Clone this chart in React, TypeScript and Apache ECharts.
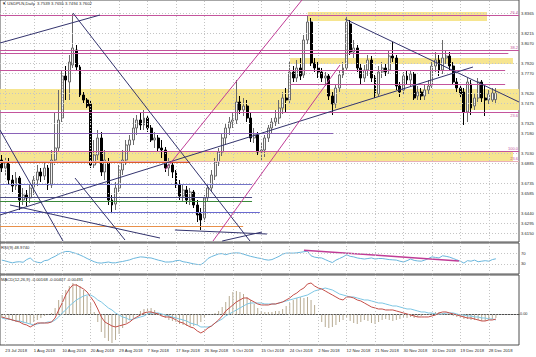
import React, { useEffect, useRef } from 'react';
import * as echarts from 'echarts';

// ---------- DATA ----------
// OHLC per bar: [open, close, low, high]
const candles = [
[3.6935,3.6855,3.6815,3.6985],[3.6855,3.6915,3.6785,3.6955],[3.6915,3.6735,3.6685,3.6955],[3.6735,3.6675,3.6615,3.6785],[3.6675,3.6755,3.6635,3.6815],
[3.6755,3.6535,3.6435,3.6775],[3.6535,3.6585,3.6485,3.6655],[3.6585,3.6555,3.6475,3.6635],[3.6555,3.6655,3.6505,3.6685],[3.6655,3.6735,3.6585,3.6775],
[3.6735,3.6815,3.6675,3.6885],[3.6815,3.6775,3.6715,3.6855],[3.6775,3.6855,3.6735,3.6915],[3.6855,3.6685,3.6635,3.6885],[3.6685,3.6935,3.6655,3.7035],
[3.6935,3.7055,3.6885,3.7415],[3.7055,3.7335,3.7015,3.7635],[3.7355,3.7775,3.7315,3.7835],[3.7775,3.7735,3.7535,3.7875],[3.7715,3.7915,3.7535,3.7985],
[3.7885,3.8055,3.7855,3.8405],[3.8035,3.7865,3.7835,3.8085],[3.7865,3.7585,3.7565,3.7885],[3.7585,3.7535,3.7505,3.7615],[3.7535,3.7475,3.7455,3.7555],
[3.7495,3.6885,3.6855,3.7535],[3.6885,3.6985,3.6855,3.7135],[3.6985,3.7155,3.6935,3.7235],[3.7155,3.6815,3.6775,3.7215],[3.6815,3.6935,3.6735,3.7035],
[3.6915,3.6535,3.6485,3.6955],[3.6535,3.6485,3.6405,3.6585],[3.6495,3.6655,3.6435,3.6715],[3.6655,3.6835,3.6615,3.6885],[3.6835,3.6935,3.6785,3.7035],
[3.6935,3.7085,3.6885,3.7135],[3.7085,3.7135,3.7015,3.7185],[3.7135,3.7255,3.7085,3.7355],[3.7255,3.7335,3.7185,3.7385],[3.7335,3.7285,3.7235,3.7415],
[3.7285,3.7355,3.7235,3.7435],[3.7355,3.7255,3.7215,3.7385],[3.7255,3.7135,3.7115,3.7285],[3.7135,3.7155,3.7055,3.7215],[3.7155,3.7055,3.7015,3.7185],
[3.7055,3.7035,3.6955,3.7135],[3.7035,3.6855,3.6815,3.7065],[3.6855,3.6885,3.6775,3.6955],[3.6885,3.6815,3.6755,3.6935],[3.6815,3.6685,3.6655,3.6835],
[3.6685,3.6575,3.6535,3.6735],[3.6575,3.6635,3.6515,3.6685],[3.6635,3.6535,3.6495,3.6675],[3.6535,3.6615,3.6485,3.6655],[3.6615,3.6485,3.6455,3.6635],
[3.6485,3.6385,3.6315,3.6535],[3.6405,3.6335,3.6235,3.6455],[3.6355,3.6555,3.6315,3.6585],[3.6555,3.6655,3.6515,3.6685],[3.6655,3.6785,3.6615,3.6835],
[3.6775,3.6915,3.6735,3.6955],[3.6915,3.7015,3.6875,3.7055],[3.7015,3.7155,3.6975,3.7195],[3.7155,3.7255,3.7085,3.7295],[3.7255,3.7315,3.7185,3.7365],
[3.7315,3.7335,3.7255,3.7415],[3.7335,3.7515,3.7295,3.7735],[3.7515,3.7435,3.7395,3.7575],[3.7435,3.7475,3.7375,3.7555],[3.7475,3.7355,3.7315,3.7535],
[3.7355,3.7155,3.7115,3.7415],[3.7155,3.7185,3.7105,3.7255],[3.7185,3.7015,3.6985,3.7215],[3.7015,3.7035,3.6935,3.7105],[3.7035,3.7155,3.6965,3.7185],
[3.7155,3.7255,3.7115,3.7285],[3.7255,3.7315,3.7205,3.7355],[3.7315,3.7355,3.7275,3.7435],[3.7355,3.7455,3.7295,3.7535],[3.7455,3.7555,3.7395,3.7615],
[3.7555,3.7535,3.7415,3.7655],[3.7535,3.7815,3.7495,3.7915],[3.7815,3.7755,3.7715,3.7875],[3.7755,3.7855,3.7715,3.7935],[3.7855,3.7775,3.7735,3.7955],
[3.7785,3.8135,3.7755,3.8185],[3.8135,3.8315,3.8095,3.8375],[3.8315,3.7905,3.7875,3.8355],[3.7905,3.7855,3.7815,3.7955],[3.7855,3.7815,3.7755,3.7915],
[3.7815,3.7755,3.7715,3.7855],[3.7755,3.7775,3.7675,3.7815],[3.7775,3.7575,3.7535,3.7795],[3.7575,3.7495,3.7385,3.7615],[3.7495,3.7655,3.7455,3.7695],
[3.7655,3.7785,3.7615,3.7835],[3.7785,3.7855,3.7755,3.7915],[3.7855,3.8315,3.7835,3.8365],[3.8295,3.8015,3.7985,3.8335],[3.8015,3.8055,3.7955,3.8135],
[3.8055,3.7855,3.7815,3.8085],[3.7855,3.7755,3.7695,3.7895],[3.7755,3.7835,3.7715,3.7885],[3.7835,3.7935,3.7775,3.7985],[3.7935,3.7755,3.7715,3.7975],
[3.7755,3.7585,3.7555,3.7785],[3.7595,3.7815,3.7575,3.7875],[3.7815,3.7855,3.7755,3.7915],[3.7855,3.7815,3.7775,3.7895],[3.7835,3.7975,3.7795,3.8035],
[3.7975,3.7955,3.7915,3.8115],[3.7955,3.7675,3.7635,3.7985],[3.7675,3.7615,3.7565,3.7715],[3.7635,3.7775,3.7595,3.7815],[3.7775,3.7735,3.7695,3.7835],
[3.7735,3.7795,3.7675,3.7835],[3.7795,3.7555,3.7535,3.7815],[3.7575,3.7615,3.7535,3.7675],[3.7615,3.7575,3.7535,3.7655],[3.7575,3.7635,3.7535,3.7695],
[3.7635,3.7675,3.7595,3.7735],[3.7675,3.7875,3.7655,3.7915],[3.7875,3.7935,3.7815,3.8015],[3.7935,3.7835,3.7775,3.7985],[3.7835,3.7955,3.7795,3.8135],
[3.7955,3.7975,3.7895,3.8035],[3.7975,3.7875,3.7835,3.8015],[3.7875,3.7715,3.7685,3.7915],[3.7715,3.7655,3.7615,3.7755],[3.7655,3.7595,3.7555,3.7695],
[3.7615,3.7415,3.7285,3.7655],[3.7415,3.7715,3.7315,3.7755],[3.7695,3.7455,3.7385,3.7735],[3.7475,3.7555,3.7435,3.7595],[3.7555,3.7715,3.7515,3.7755],
[3.7715,3.7555,3.7515,3.7735],[3.7555,3.7535,3.7375,3.7695],[3.7535,3.7595,3.7495,3.7635],[3.7535,3.7605,3.7515,3.7655],[3.7539,3.7602,3.7494,3.7655]
];

const rsi = [44,41,37,34,37,38,36,46,52,40,36,34,42,44,52,58,66,72,76,76,
72,68,63,57,50,44,38,34,33,35,37,34,34,37,39,42,45,50,53,56,
55,53,52,48,44,41,37,37,38,42,43,38,36,33,30,28,27,36,50,57,
62,67,68,64,68,70,71,70,66,62,58,55,52,50,46,44,46,52,58,66,
70,70,70,71,73,75,77,60,55,53,52,46,40,35,44,50,56,64,58,56,
52,50,48,50,52,48,50,50,48,46,45,44,40,37,42,48,43,41,40,44,
50,56,54,52,60,58,55,50,45,40,33,42,40,44,38,40,42,40,46,49];

const macdMain = [-0.00092,-0.00129,-0.00166,-0.00202,-0.00239,-0.00276,-0.0035,-0.00386,-0.0046,-0.00386,
-0.00313,-0.00313,-0.00313,-0.00313,-0.00276,-0.00129,0.00166,0.00423,0.00718,0.00938,
0.01086,0.01086,0.01012,0.00938,0.00828,0.00644,0.0046,0.00202,-0.00092,-0.00276,
-0.0035,-0.00423,-0.0046,-0.00423,-0.00386,-0.0035,-0.00276,-0.00166,-0.00092,-0.00018,
0.00055,0.00092,0.00092,0.00055,0.00018,-0.00055,-0.00092,-0.00092,-0.00129,-0.00202,
-0.00276,-0.00313,-0.00386,-0.0046,-0.00497,-0.00607,-0.00681,-0.00607,-0.00497,-0.00423,
-0.00313,-0.00202,-0.00055,0.00129,0.00239,0.0035,0.0046,0.00534,0.00607,0.00607,
0.00534,0.0046,0.00386,0.0035,0.0035,0.0035,0.00386,0.00386,0.00423,0.0046,
0.00534,0.00607,0.00718,0.00791,0.00902,0.00975,0.01122,0.01159,0.01049,0.00975,
0.00938,0.00865,0.00791,0.00718,0.00644,0.0057,0.00534,0.00644,0.00644,0.00607,
0.00534,0.00497,0.00423,0.0035,0.00276,0.00239,0.00202,0.00202,0.00166,0.00166,
0.00166,0.00129,0.00092,0.00055,0.00018,-0.00018,-0.00055,-0.00092,-0.00092,-0.00092,
-0.00092,-0.00055,-0.00018,0.00055,0.00092,0.00092,0.00055,0.00018,-0.00018,-0.00055,
-0.00092,-0.00129,-0.00129,-0.00166,-0.00202,-0.00239,-0.00239,-0.00202,-0.00202,-0.00168];

const macdSignal = [-0.00129,-0.00166,-0.00166,-0.00202,-0.00239,-0.00239,-0.00276,-0.00313,-0.0035,-0.00386,
-0.0035,-0.00313,-0.00313,-0.00276,-0.00276,-0.00202,-0.00092,0.00055,0.00166,0.00313,
0.00423,0.00534,0.00607,0.00681,0.00718,0.00718,0.00644,0.00534,0.0046,0.0035,
0.00239,0.00166,0.00055,-0.00018,-0.00092,-0.00129,-0.00202,-0.00166,-0.00129,-0.00092,
-0.00055,0.00018,0.00055,0.00055,0.00055,0.00018,-0.00018,-0.00055,-0.00092,-0.00129,
-0.00166,-0.00202,-0.00239,-0.00313,-0.0035,-0.00386,-0.0046,-0.0046,-0.0046,-0.00423,
-0.00313,-0.00239,-0.00166,-0.00055,0.00018,0.00092,0.00166,0.00239,0.00313,0.00386,
0.00423,0.00423,0.00423,0.00423,0.00386,0.00386,0.00386,0.00386,0.00423,0.0046,
0.00497,0.00534,0.0057,0.00607,0.00644,0.00681,0.00718,0.00791,0.00865,0.00902,
0.00938,0.00975,0.00938,0.00902,0.00828,0.00754,0.00718,0.00681,0.00644,0.00644,
0.00607,0.0057,0.00534,0.00534,0.00497,0.0046,0.00423,0.00423,0.00386,0.0035,
0.00313,0.00313,0.00276,0.00239,0.00202,0.00202,0.00166,0.00129,0.00092,0.00092,
0.00055,0.00055,0.00018,0.00018,0.00018,0.00055,0.00055,0.00055,0.00018,-0.00018,
-0.00018,-0.00055,-0.00055,-0.00092,-0.00092,-0.00129,-0.00129,-0.00166,-0.00166,-0.00202];

const macdHist = [-0.00129,-0.00166,-0.00202,-0.00239,-0.00276,-0.00276,-0.00313,-0.00313,-0.0035,-0.00276,
-0.00202,-0.00129,-0.00055,-0.00018,0.00055,0.00239,0.00534,0.00718,0.00902,0.01049,
0.01159,0.01122,0.01049,0.00902,0.00681,0.00423,0.00092,-0.00276,-0.00644,-0.00865,
-0.00975,-0.01049,-0.00938,-0.00718,-0.00497,-0.00313,-0.00202,-0.00129,0.00018,0.00129,
0.00202,0.00239,0.00239,0.00166,0.00055,-0.00055,-0.00129,-0.00202,-0.00239,-0.00276,
-0.0035,-0.00386,-0.00423,-0.0046,-0.00423,-0.00386,-0.00276,-0.00129,-0.00018,0.00018,
0.00055,0.00129,0.00276,0.0046,0.00681,0.00828,0.00865,0.00828,0.00754,0.00644,
0.00534,0.00386,0.00239,0.00129,0.00092,0.00092,0.00092,0.00129,0.00129,0.00202,
0.00313,0.00423,0.00534,0.00607,0.00644,0.00607,0.00644,0.00534,0.0035,0.00018,
-0.00276,-0.0046,-0.00497,-0.0046,-0.00386,-0.00276,-0.00202,-0.00129,-0.00239,-0.00313,
-0.0035,-0.00276,-0.00202,-0.00239,-0.00313,-0.0035,-0.00276,-0.00202,-0.00166,-0.00202,
-0.00239,-0.00202,-0.00166,-0.00129,-0.00129,-0.00092,-0.00129,-0.00092,-0.00055,-0.00018,
0.00018,0.00055,0.00092,0.00092,0.00055,0.00018,-0.00018,-0.00055,-0.00092,-0.00129,
-0.00166,-0.00166,-0.00202,-0.00202,-0.00202,-0.00239,-0.00239,-0.00202,-0.00166,-0.00129];

const dateLabels = ['23 Jul 2018','1 Aug 2018','10 Aug 2018','20 Aug 2018','29 Aug 2018','7 Sep 2018','17 Sep 2018','26 Sep 2018','5 Oct 2018','15 Oct 2018','24 Oct 2018','2 Nov 2018','12 Nov 2018','21 Nov 2018','30 Nov 2018','10 Dec 2018','19 Dec 2018','28 Dec 2018'];
const priceTicks = ['3.8365','3.8215','3.8070','3.7920','3.7770','3.7620','3.7475','3.7325','3.7180','3.7030','3.6885','3.6735','3.6585','3.6440','3.6295','3.6150'];
const rsiTicks = ['100','70','30','0'];
const rsiLevels = [70, 30];
const macdTicks = ['0.01306','0.00','-0.01049'];
const lastPrice = 3.7602;

const PINK = '#c4549c';
const NAVY = '#34346e';
const BAND = '#f6e48a';

// bands: [x from, x to] in bar units, [top price, bottom price]
const bands = [
  { x: [86.1, 136.5], p: [3.8415, 3.8325] },
  { x: [81.1, 143.8], p: [3.7955, 3.7895] },
  { x: [-0.5, 145.5], p: [3.7645, 3.7435] },
  { x: [-0.5, 143.8], p: [3.7015, 3.6925] },
];

// horizontal levels
const levels = [
  { p: 3.8385, x: [-0.5, 145.5], c: PINK, t: '76.4', pos: 'insideEndTop' },
  { p: 3.8035, x: [-0.5, 145.5], c: PINK, t: '38.2', pos: 'insideEndTop' },
  { p: 3.8005, x: [-0.5, 142.5], c: PINK, t: '', pos: '' },
  { p: 3.7835, x: [-0.5, 141.6], c: PINK, t: '', pos: '' },
  { p: 3.7695, x: [81.1, 141.6], c: PINK, t: '', pos: '' },
  { p: 3.7415, x: [-0.5, 145.5], c: PINK, t: '23.6', pos: 'insideEndBottom' },
  { p: 3.7205, x: [-0.5, 93.2], c: '#8a62b8', t: '', pos: '' },
  { p: 3.7025, x: [-0.5, 145.5], c: PINK, t: '100.0', pos: 'insideEndTop' },
  { p: 3.6925, x: [-0.5, 145.5], c: '#e8b0b8', t: '23.6', pos: 'insideEndTop' },
  { p: 3.6915, x: [-0.5, 53.0], c: '#e05a28', t: '', pos: '' },
  { p: 3.6695, x: [-0.5, 70.4], c: '#7474c8', t: '', pos: '' },
  { p: 3.6565, x: [-0.5, 70.4], c: '#4c4c84', t: '', pos: '' },
  { p: 3.6525, x: [-0.5, 70.4], c: '#3a8a3a', t: '', pos: '' },
  { p: 3.6415, x: [-0.5, 72.6], c: '#6a6ad0', t: '', pos: '' },
  { p: 3.6275, x: [-0.5, 67.9], c: '#e8904a', t: '', pos: '' },
];

// trend lines: [x0, p0] -> [x1, p1]
const trendLines = [
  { a: [-0.5, 3.8105], b: [27.63, 3.8385], c: NAVY },
  { a: [20.03, 3.8405], b: [69.82, 3.6125], c: NAVY },
  { a: [-0.5, 3.6385], b: [132.55, 3.7865], c: NAVY },
  { a: [96.55, 3.8345], b: [145.5, 3.7515], c: NAVY },
  { a: [45.91, 3.6835], b: [84.45, 3.8535], c: '#c03c96' },
  { a: [59.42, 3.6125], b: [95.14, 3.7885], c: '#c03c96' },
  { a: [-0.5, 3.7235], b: [17.22, 3.6125], c: NAVY },
  { a: [20.6, 3.6755], b: [34.66, 3.6135], c: NAVY },
  { a: [2.31, 3.6485], b: [44.51, 3.6155], c: NAVY },
  { a: [48.7, 3.6235], b: [74.6, 3.6195], c: NAVY },
  { a: [62.0, 3.6125], b: [73.2, 3.6215], c: NAVY },
];
const rsiTrend = { a: [85, 81], b: [128.6, 41] };

// ---------- CATEGORIES (trading calendar incl. Sunday bars) ----------
const MONTHS = ['Jan','Feb','Mar','Apr','May','Jun','Jul','Aug','Sep','Oct','Nov','Dec'];
const NCAT = 146;
const categories: string[] = [];
{
  const d = new Date(Date.UTC(2018, 6, 22));
  while (categories.length < NCAT) {
    if (d.getUTCDay() !== 6) categories.push(`${d.getUTCDate()} ${MONTHS[d.getUTCMonth()]} ${d.getUTCFullYear()}`);
    d.setUTCDate(d.getUTCDate() + 1);
  }
}
const tickIdx = dateLabels.map((l) => categories.indexOf(l));

const FONT = 'Liberation Sans, Arial, sans-serif';
const TXT = '#2a2a2a';
const GRIDC = '#c4c4c4';

function buildOption() {
  const vGrid = tickIdx.map((i) => ({ xAxis: i, label: { show: false }, lineStyle: { color: GRIDC, type: [1, 2], width: 1 } }));
  const labelStyle = { show: true, position: 'end', fontSize: 4.2, color: TXT, fontFamily: FONT, distance: 2 };
  const smallLabel = { show: true, position: 'end', fontSize: 3.8, color: TXT, fontFamily: FONT, distance: 1 };

  const series: any[] = [];
  // main pane grid lines and price labels
  series.push({
    type: 'line', xAxisIndex: 1, yAxisIndex: 0, data: [], silent: true, z: 0,
    markLine: {
      silent: true, symbol: ['none', 'none'], animation: false,
      data: [
        ...priceTicks.map((t) => ({ yAxis: parseFloat(t), label: { ...labelStyle, formatter: t }, lineStyle: { color: GRIDC, type: [1, 2], width: 1 } })),
        ...vGrid,
      ],
    },
  });
  // bands
  series.push({
    type: 'line', xAxisIndex: 1, yAxisIndex: 0, data: [], silent: true, z: 1,
    markArea: {
      silent: true, animation: false,
      itemStyle: { color: BAND, opacity: 0.95 },
      data: bands.map((b) => [{ coord: [b.x[0], b.p[0]] }, { coord: [b.x[1], b.p[1]] }]),
    },
  });
  // candles
  series.push({
    type: 'candlestick', xAxisIndex: 0, yAxisIndex: 0, data: candles, z: 3, barWidth: '68%',
    itemStyle: { color: '#f2f2f2', color0: '#000000', borderColor: '#6a6a6a', borderColor0: '#000000', borderWidth: 1 },
    silent: true,
  });
  // horizontal levels
  series.push({
    type: 'line', xAxisIndex: 1, yAxisIndex: 0, data: [], silent: true, z: 4,
    markLine: {
      silent: true, symbol: ['none', 'none'], animation: false,
      data: levels.map((l) => [
        {
          coord: [l.x[0], l.p],
          lineStyle: { color: l.c, width: 1.2, type: 'solid' },
          label: l.t ? { show: true, position: l.pos, formatter: l.t, fontSize: 4, color: PINK, fontFamily: FONT, distance: 1 } : { show: false },
        },
        { coord: [l.x[1], l.p] },
      ]),
    },
  });
  // trend lines
  trendLines.forEach((tl) => {
    series.push({
      type: 'line', xAxisIndex: 1, yAxisIndex: 0, data: [tl.a, tl.b], symbol: 'none', silent: true, z: 5,
      lineStyle: { color: tl.c, width: 1 }, clip: true,
    });
  });
  // current price label
  series.push({
    type: 'line', xAxisIndex: 1, yAxisIndex: 0, data: [], silent: true, z: 10,
    markLine: {
      silent: true, symbol: ['none', 'none'], animation: false,
      data: [{ yAxis: lastPrice, lineStyle: { opacity: 0 }, label: { show: true, position: 'end', formatter: lastPrice.toFixed(4), fontSize: 4.2, color: '#ffffff', backgroundColor: '#1e1e1e', padding: [1, 2], fontFamily: FONT, distance: 1 } }],
    },
  });

  // RSI pane
  series.push({
    type: 'line', xAxisIndex: 4, yAxisIndex: 1, data: [], silent: true, z: 0,
    markLine: {
      silent: true, symbol: ['none', 'none'], animation: false,
      data: [
        ...rsiTicks.map((t) => ({
          yAxis: parseFloat(t),
          label: { ...labelStyle, formatter: t },
          lineStyle: rsiLevels.includes(parseFloat(t)) ? { color: GRIDC, type: [1, 2], width: 1 } : { opacity: 0 },
        })),
        ...vGrid,
      ],
    },
  });
  series.push({
    type: 'line', xAxisIndex: 2, yAxisIndex: 1, data: rsi, symbol: 'none', silent: true, z: 3,
    lineStyle: { color: '#6ab6dc', width: 1 },
  });
  series.push({
    type: 'line', xAxisIndex: 4, yAxisIndex: 1, data: [rsiTrend.a, rsiTrend.b], symbol: 'none', silent: true, z: 4,
    lineStyle: { color: '#c03c96', width: 1.5 },
  });

  // MACD pane
  series.push({
    type: 'line', xAxisIndex: 5, yAxisIndex: 2, data: [], silent: true, z: 0,
    markLine: {
      silent: true, symbol: ['none', 'none'], animation: false,
      data: [
        ...macdTicks.map((t) => ({
          yAxis: parseFloat(t),
          label: { ...smallLabel, formatter: t },
          lineStyle: parseFloat(t) === 0 ? { color: '#a8a8a8', type: [1, 2], width: 1 } : { opacity: 0 },
        })),
        ...vGrid,
      ],
    },
  });
  series.push({
    type: 'bar', xAxisIndex: 3, yAxisIndex: 2, data: macdHist, barWidth: 1, silent: true, z: 2,
    itemStyle: { color: '#b7ab92' },
  });
  series.push({
    type: 'line', xAxisIndex: 3, yAxisIndex: 2, data: macdSignal, symbol: 'none', silent: true, z: 3,
    lineStyle: { color: '#7cc6e4', width: 1 },
  });
  series.push({
    type: 'line', xAxisIndex: 3, yAxisIndex: 2, data: macdMain, symbol: 'none', silent: true, z: 4,
    lineStyle: { color: '#c44e48', width: 1 },
  });

  const gridBase = { left: 0, width: 519, show: true, borderColor: '#4e4e4e', borderWidth: 1, backgroundColor: 'transparent' };
  const catAxis = (g: number) => ({
    type: 'category', gridIndex: g, data: categories, boundaryGap: true,
    axisLine: { show: false }, axisTick: { show: false }, axisLabel: { show: false }, splitLine: { show: false },
  });
  const valX = (g: number) => ({ type: 'value', gridIndex: g, min: -0.5, max: 145.5, show: false, splitLine: { show: false } });

  const titleStyle = { fontSize: 4.2, fontWeight: 'normal', color: TXT, fontFamily: FONT };

  return {
    animation: false,
    backgroundColor: '#ffffff',
    title: [
      { text: '▼ USDPLN,Daily  3.7539 3.7655 3.7494 3.7602', left: 2, top: 1, padding: 0, textStyle: titleStyle },
      { text: 'RSI(9) 48.9740', left: 1, top: 245, padding: 0, textStyle: titleStyle },
      { text: 'MACD(12,26,9) -0.00168 -0.00407 -0.00491', left: 1, top: 277, padding: 0, textStyle: titleStyle },
    ],
    grid: [
      { ...gridBase, top: 0, height: 242 },
      { ...gridBase, top: 243, height: 31 },
      { ...gridBase, top: 275, height: 70 },
    ],
    xAxis: [
      catAxis(0),
      valX(0),
      catAxis(1),
      {
        ...catAxis(2),
        axisLine: { show: true, lineStyle: { color: '#4e4e4e' } },
        axisLabel: {
          show: true, fontSize: 4.2, color: TXT, fontFamily: FONT, align: 'left', margin: 3,
          interval: (idx: number) => tickIdx.includes(idx),
        },
      },
      valX(1),
      valX(2),
    ],
    yAxis: [
      { type: 'value', gridIndex: 0, min: 3.6115, max: 3.8535, show: false, splitLine: { show: false } },
      { type: 'value', gridIndex: 1, min: -7.4, max: 107.4, show: false, splitLine: { show: false } },
      { type: 'value', gridIndex: 2, min: -0.01123, max: 0.01453, show: false, splitLine: { show: false } },
    ],
    series,
  };
}

export default function App() {
  const ref = useRef<HTMLDivElement>(null);
  useEffect(() => {
    const chart = echarts.init(ref.current!, null, { renderer: 'svg' });
    chart.setOption(buildOption() as any);
    return () => chart.dispose();
  }, []);
  return <div ref={ref} style={{ position: 'fixed', left: 0, top: 0, width: 536, height: 357, background: '#fff' }} />;
}
